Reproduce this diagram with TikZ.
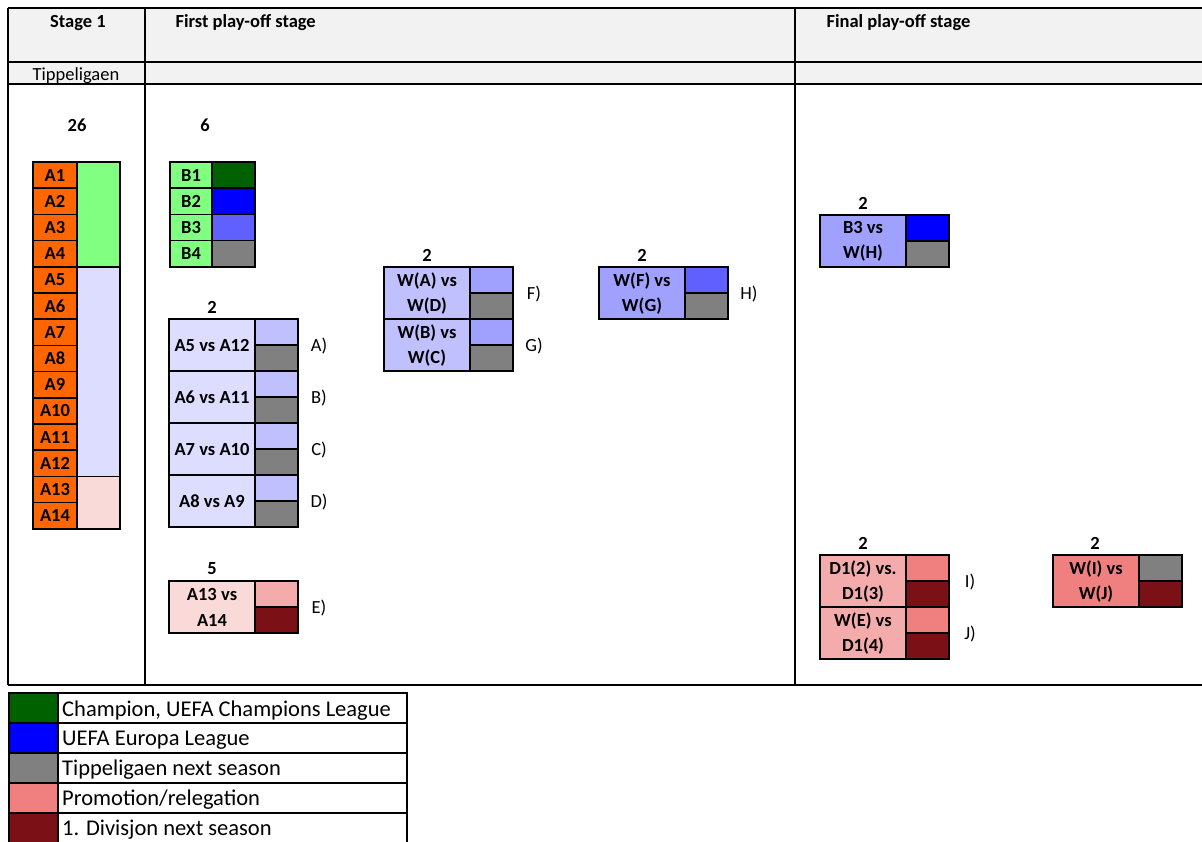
\documentclass[tikz,border=0pt]{standalone}
\usepackage{fontspec}
\setmainfont{Carlito}
\usepackage{xcolor}
\definecolor{headgray}{HTML}{F2F2F2}
\definecolor{teamorange}{HTML}{FF6600}
\definecolor{safegreen}{HTML}{80FF80}
\definecolor{champgreen}{HTML}{006100}
\definecolor{europablue}{HTML}{0000FF}
\definecolor{blueA}{HTML}{6060FF}
\definecolor{blueB}{HTML}{A0A0FF}
\definecolor{blueC}{HTML}{C0C0FF}
\definecolor{blueD}{HTML}{DDDDFF}
\definecolor{keepgray}{HTML}{808080}
\definecolor{promored}{HTML}{F08080}
\definecolor{pinkA}{HTML}{F4ABAB}
\definecolor{pinkB}{HTML}{FAD9D9}
\definecolor{downred}{HTML}{7B1116}
\usepackage{tikz}

\newcommand{\sheetfont}{\fontsize{18.5}{25.5}\selectfont}
\tikzset{
  frameline/.style={line width=2.4pt},
  boxline/.style={line width=2pt},
  cellline/.style={line width=1.6pt},
  team/.style={font=\sheetfont\bfseries,inner sep=0pt},
  count/.style={font=\sheetfont\bfseries,inner sep=0pt},
  tietext/.style={font=\sheetfont\bfseries,align=center,inner sep=0pt},
  tag/.style={anchor=base,inner sep=0pt},
  keytext/.style={anchor=base west,inner sep=0pt,font=\fontsize{22.5}{27}\selectfont}
}

% one tie: name, left, top, left colour, upper colour, lower colour, text, tag
\newcommand{\playoffbox}[8]{%
  \begin{scope}[shift={(#2,#3)}]
    \fill[#4] (0,0) rectangle (86,52);
    \fill[#5] (86,0) rectangle (129,26);
    \fill[#6] (86,26) rectangle (129,52);
    \draw[cellline] (86,0) -- (86,52) (86,26) -- (129,26);
    \draw[boxline] (0,0) rectangle (129,52);
    \node[tietext] (#1) at (43,26.5) {#7};
    \node[tag] (#1-tag) at (150,32) {#8};
  \end{scope}}

\begin{document}
\begin{tikzpicture}[x=1pt,y=-1pt,font=\sheetfont]
  \useasboundingbox (0,0) rectangle (1202,841);
  % header rows
  \fill[headgray] (8,8) rectangle (1202,84);
  \draw[frameline] (8,8) -- (1202,8) (8,62) -- (1202,62) (8,84) -- (1202,84)
    (8,685) -- (1202,685);
  \draw[frameline] (8,8) -- (8,685) (145,8) -- (145,685) (795,8) -- (795,685);
  \node[anchor=base] (stage) at (78,27) {\bfseries Stage 1};
  \node[anchor=base west] (firstpo) at (172,27) {\bfseries First play-off stage};
  \node[anchor=base west] (finalpo) at (823,27) {\bfseries Final play-off stage};
  \node[anchor=base] (league) at (76,80) {Tippeligaen};

  % stage 1 table
  \node[count] (n26) at (77,125) {26};
  \fill[safegreen] (77,162) rectangle (120,266.8);
  \fill[blueD] (77,266.8) rectangle (120,476.6);
  \fill[pinkB] (77,476.6) rectangle (120,529);
  \fill[teamorange] (33,162) rectangle (77,529);
  \foreach \i in {1,...,14} {
    \draw[cellline] (33,{162+\i*26.2}) -- (77,{162+\i*26.2});
    \node[team] (a\i) at (55,{175.1+(\i-1)*26.2}) {A\i};
  }
  \draw[cellline] (77,266.8) -- (120,266.8) (77,476.6) -- (120,476.6);
  \draw[boxline] (33,162) rectangle (120,529) (77,162) -- (77,529);

  % group B
  \node[count] (n6) at (205,125) {6};
  \fill[safegreen] (170,162) rectangle (212,266.8);
  \foreach \c [count=\i] in {champgreen,europablue,blueA,keepgray}
    \fill[\c] (212,{162+(\i-1)*26.2}) rectangle (255,{162+\i*26.2});
  \foreach \i in {1,...,4} {
    \draw[cellline] (170,{162+\i*26.2}) -- (255,{162+\i*26.2});
    \node[team] (b\i) at (191,{175.1+(\i-1)*26.2}) {B\i};
  }
  \draw[boxline] (170,162) rectangle (255,266.8) (212,162) -- (212,266.8);

  % first play-off stage
  \node[count] (n2a) at (212,307) {2};
  \playoffbox{tieA}{169}{319}{blueD}{blueC}{keepgray}{A5 vs A12}{A)}
  \playoffbox{tieB}{169}{371}{blueD}{blueC}{keepgray}{A6 vs A11}{B)}
  \playoffbox{tieC}{169}{423}{blueD}{blueC}{keepgray}{A7 vs A10}{C)}
  \playoffbox{tieD}{169}{475}{blueD}{blueC}{keepgray}{A8 vs A9}{D)}
  \node[count] (n5) at (212,569) {5};
  \playoffbox{tieE}{169}{581}{pinkB}{pinkA}{downred}{A13 vs\\A14}{E)}
  \node[count] (n2f) at (427,255) {2};
  \playoffbox{tieF}{384}{267}{blueC}{blueB}{keepgray}{W(A) vs\\W(D)}{F)}
  \playoffbox{tieG}{384}{319}{blueC}{blueB}{keepgray}{W(B) vs\\W(C)}{G)}
  \node[count] (n2h) at (642,255) {2};
  \playoffbox{tieH}{599}{267}{blueB}{blueA}{keepgray}{W(F) vs\\W(G)}{H)}

  % final play-off stage
  \node[count] (n2b) at (863,203) {2};
  \playoffbox{tieB3}{820}{215}{blueB}{europablue}{keepgray}{B3 vs\\W(H)}{}
  \node[count] (n2i) at (863,543) {2};
  \playoffbox{tieI}{820}{555}{pinkA}{promored}{downred}{D1(2) vs.\\D1(3)}{I)}
  \playoffbox{tieJ}{820}{607}{pinkA}{promored}{downred}{W(E) vs\\D1(4)}{J)}
  \node[count] (n2k) at (1095,543) {2};
  \playoffbox{tieK}{1053}{555}{promored}{keepgray}{downred}{W(I) vs\\W(J)}{}

  % legend
  \foreach \c/\t [count=\i from 0] in {champgreen/{Champion, UEFA Champions League},
      europablue/UEFA Europa League, keepgray/Tippeligaen next season,
      promored/{Promotion/relegation}, downred/1. Divisjon next season} {
    \fill[\c] (9,{693+\i*29.9}) rectangle (58,{693+(\i+1)*29.9});
    \draw[boxline] (9,{693+\i*29.9}) rectangle (407,{693+(\i+1)*29.9})
      (58,{693+\i*29.9}) -- (58,{693+(\i+1)*29.9});
    \node[keytext] (key\i) at (62,{716+\i*29.9}) {\t};
  }
\end{tikzpicture}
\end{document}
